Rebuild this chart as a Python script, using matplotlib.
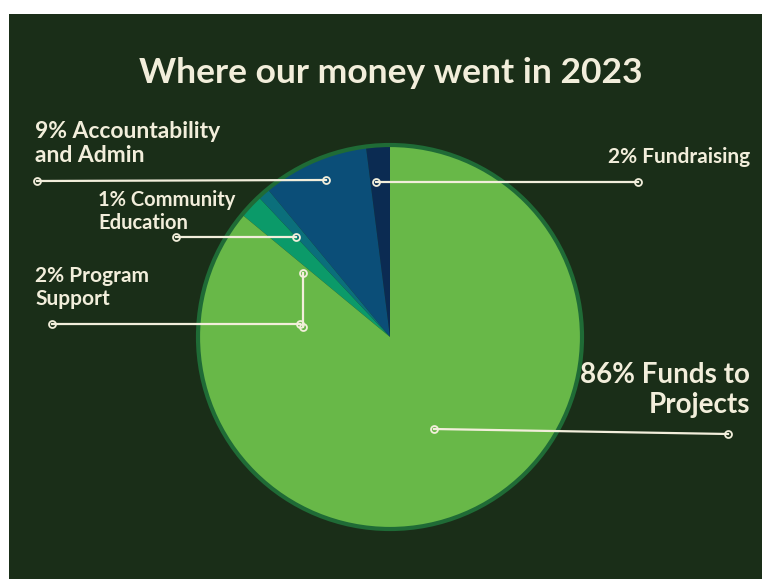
import numpy as np
import matplotlib
matplotlib.use("Agg")
import matplotlib.pyplot as plt
from matplotlib.patches import Rectangle, Circle

# data
categories = ["Fundraising", "Accountability and Admin", "Community Education",
              "Program Support", "Funds to Projects"]
shares = [2, 9, 1, 2, 86]
labels = ["2% Fundraising", "9% Accountability\nand Admin", "1% Community\nEducation",
          "2% Program\nSupport", "86% Funds to\nProjects"]
colors = ["#0b2b52", "#0b4e78", "#0b6f7b", "#0b9a69", "#68b848"]

BG = "#1a2e18"
CREAM = "#f2eedb"
W, H = 762, 579

fig = plt.figure(figsize=(W / 100, H / 100), dpi=100, facecolor="white")
ax = fig.add_axes([0, 0, 1, 1])


def py(y):
    # pixel row (from top) -> data y
    return H - y


ax.add_patch(Rectangle((9, 0), W - 9, py(14), facecolor=BG, edgecolor="none", zorder=0))

cx, cy, r = 390, py(337), 192
ax.pie(shares, colors=colors, startangle=90, counterclock=True, center=(cx, cy),
       radius=r, wedgeprops=dict(linewidth=0), frame=True)
ax.add_patch(Circle((cx, cy), r, facecolor="none", edgecolor="#1f6b36", linewidth=3, zorder=3))
ax.set_xlim(0, W)
ax.set_ylim(0, H)
ax.set_aspect("equal")
ax.axis("off")

ax.text(391, py(73), "Where our money went in 2023", ha="center", va="center",
        fontsize=25.5, fontweight="bold", family="Lato", color=CREAM)

# leader lines in pixel layout
leaders = [
    [(376, 182), (638, 182)],
    [(37, 181), (326, 180)],
    [(176, 237), (296, 237)],
    [(52, 324), (300, 324)],
    [(434, 429), (728, 434)],
]
for seg in leaders:
    xs = [p[0] for p in seg]
    ys = [py(p[1]) for p in seg]
    ax.plot(xs, ys, color=CREAM, lw=1.6, marker="o", ms=5, mfc="none", mew=1.3, zorder=5)
ax.plot([303, 303], [py(273), py(327)], color=CREAM, lw=1.6, marker="o", ms=5,
        mfc="none", mew=1.3, zorder=5)

# label text positions (x, y_top, ha, size)
label_pos = [(750, 147, "right", 15), (35, 121, "left", 16.5), (98, 190, "left", 14.5),
             (35, 266, "left", 15), (750, 362, "right", 20)]
for lab, (x, y, ha, fs) in zip(labels, label_pos):
    ax.text(x, py(y), lab, ha=ha, va="top", multialignment=ha, fontsize=fs,
            fontweight="bold", family="Lato", color=CREAM, linespacing=1.2)

fig.savefig("out.png", dpi=100, facecolor="white")
